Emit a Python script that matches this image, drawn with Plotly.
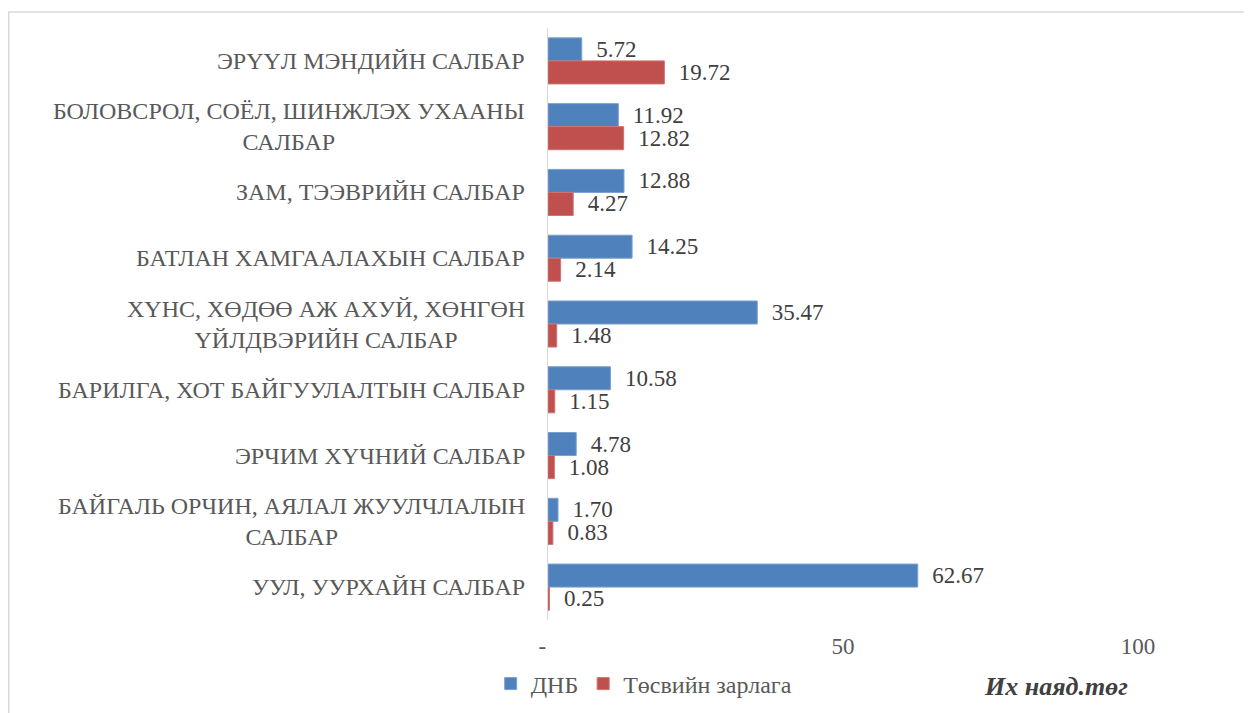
import plotly.graph_objects as go

categories = [
    "ЭРҮҮЛ МЭНДИЙН САЛБАР",
    "БОЛОВСРОЛ, СОЁЛ, ШИНЖЛЭХ УХААНЫ<br>САЛБАР",
    "ЗАМ, ТЭЭВРИЙН САЛБАР",
    "БАТЛАН ХАМГААЛАХЫН САЛБАР",
    "ХҮНС, ХӨДӨӨ АЖ АХУЙ, ХӨНГӨН<br>ҮЙЛДВЭРИЙН САЛБАР",
    "БАРИЛГА, ХОТ БАЙГУУЛАЛТЫН САЛБАР",
    "ЭРЧИМ ХҮЧНИЙ САЛБАР",
    "БАЙГАЛЬ ОРЧИН, АЯЛАЛ ЖУУЛЧЛАЛЫН<br>САЛБАР",
    "УУЛ, УУРХАЙН САЛБАР",
]
dnb = [5.72, 11.92, 12.88, 14.25, 35.47, 10.58, 4.78, 1.70, 62.67]
budget = [19.72, 12.82, 4.27, 2.14, 1.48, 1.15, 1.08, 0.83, 0.25]
tick_vals = [0, 50, 100]
tick_text = ["-\u00a0\u00a0", "50", "100"]

FONT = "Liberation Serif"
ids = [str(i) for i in range(len(categories))]

fig = go.Figure()
fig.add_trace(go.Bar(
    name="ДНБ", y=ids, x=dnb, orientation="h",
    marker=dict(color="#4F81BD", line=dict(color="#7BA0CD", width=1)),
    texttemplate="\u00a0\u00a0%{x:.2f}", textposition="outside",
    textfont=dict(family=FONT, size=23, color="#404040"),
    constraintext="none", cliponaxis=False,
))
fig.add_trace(go.Bar(
    name="Төсвийн зарлага", y=ids, x=budget, orientation="h",
    marker=dict(color="#C0504D", line=dict(color="#CD7371", width=1)),
    texttemplate="\u00a0\u00a0%{x:.2f}", textposition="outside",
    textfont=dict(family=FONT, size=23, color="#404040"),
    constraintext="none", cliponaxis=False,
))

annotations = []
for cid, lab in zip(ids, categories):
    annotations.append(dict(
        x=-0.035, xref="paper", y=cid, yref="y", text=lab, showarrow=False,
        xanchor="right", yanchor="middle", align="center",
        font=dict(family=FONT, size=24, color="#595959"),
    ))
annotations.append(dict(
    x=0.986, xref="paper", y=-0.1127, yref="paper", text="Их наяд.төг",
    showarrow=False, xanchor="right", yanchor="middle",
    font=dict(family=FONT, size=26, color="#404040", weight="bold", style="italic"),
))

fig.update_layout(
    width=1244, height=705,
    margin=dict(l=540, r=114, t=20, b=93, autoexpand=False),
    paper_bgcolor="white", plot_bgcolor="white",
    barmode="group", bargap=0.3, bargroupgap=0,
    font=dict(family=FONT, size=24, color="#595959"),
    xaxis=dict(range=[0, 100], tickvals=tick_vals, ticktext=tick_text,
               showgrid=False, zeroline=False, showline=False, ticks="",
               ticklabelstandoff=10, automargin=False,
               tickfont=dict(family=FONT, size=23, color="#595959")),
    yaxis=dict(categoryorder="array", categoryarray=ids, autorange="reversed",
               showticklabels=False, showgrid=False, zeroline=False, automargin=False,
               showline=True, linecolor="#D9D9D9", linewidth=1, ticks=""),
    legend=dict(orientation="h", xref="container", yref="container",
                x=0.511, xanchor="center", y=0.0411, yanchor="middle",
                itemwidth=30,
                font=dict(family=FONT, size=24, color="#595959"), traceorder="normal"),
    annotations=annotations,
    shapes=[dict(type="rect", xref="paper", yref="paper",
                 x0=-0.914, x1=1.25, y0=1.027, y1=-0.2,
                 line=dict(color="#D9D9D9", width=1.5), layer="below")],
    showlegend=True,
)

fig.write_html("out.html")
